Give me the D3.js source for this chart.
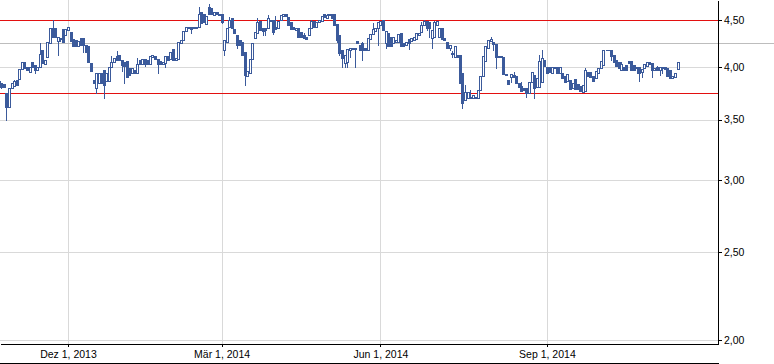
<!DOCTYPE html>
<html>
<head>
<meta charset="utf-8">
<script src="https://cdn.jsdelivr.net/npm/d3@7"></script>
<style>
	body { margin: 0; background: #fff; }
	svg { display: block; font-family: "Liberation Sans", Arial, sans-serif; }
	.axis path, .axis line { stroke: #000; shape-rendering: crispEdges; }
	.axis text { fill: #000; font-size: 10.5px; }
</style>
</head>
<body>
<div class="chart"></div>
<script>
var WIDTH = 774,
	HEIGHT = 364,
	PLOT_W = 718,
	PLOT_H = 344;

var BLUE = "#3b5a9b";

// trading calendar (weekdays minus exchange holidays)
var startDate = "2013-10-24",
	endDate = "2014-11-11";
var holidays = ["2013-12-24", "2013-12-25", "2013-12-26", "2013-12-31", "2014-01-01",
	"2014-04-18", "2014-04-21", "2014-05-01"];

var open = [
	3.86,3.84,3.83,3.74,3.61,3.79,3.81,3.87,3.88,3.98,
	4.05,4.00,3.95,4.05,4.02,3.97,4.00,4.17,4.03,4.10,
	4.25,4.42,4.41,4.27,4.29,4.40,4.34,4.39,4.37,4.29,
	4.28,4.22,4.30,4.30,4.23,4.22,4.04,3.87,3.79,3.84,
	3.94,3.97,3.86,3.86,4.00,4.05,
	4.11,4.12,4.07,4.05,
	4.06,3.99,3.94,3.97,3.94,4.07,4.03,4.08,4.07,4.03,
	4.10,4.11,4.08,4.06,4.03,4.04,4.11,4.08,4.19,4.07,
	4.08,4.25,4.28,4.38,4.43,4.43,4.41,4.41,4.43,4.60,
	4.57,4.46,4.66,4.64,4.56,4.60,4.56,4.58,4.17,4.26,
	4.43,
	4.53,4.40,4.34,4.28,4.26,4.15,3.91,3.94,4.08,
	4.30,4.36,4.49,4.41,4.42,4.42,4.51,4.51,4.43,4.41,
	4.50,4.55,4.57,4.54,4.48,4.43,4.39,4.41,4.37,4.34,
	4.32,4.34,4.41,4.49,4.43,4.48,4.49,4.57,4.53,4.56,
	4.57,4.58,4.46,4.34,4.17,4.04,
	4.05,4.18,4.20,4.19,
	4.27,4.23,4.25,4.20,4.18,4.29,4.35,4.38,4.41,4.45,
	4.50,4.25,4.36,4.32,4.25,4.26,4.26,4.36,4.25,4.23,
	4.29,4.27,4.28,4.29,4.34,4.37,4.45,4.49,4.48,4.30,
	4.31,4.45,4.31,4.42,4.30,4.26,4.20,4.13,4.10,4.12,
	4.12,3.94,3.68,3.70,3.70,3.70,3.70,3.70,3.77,3.91,
	4.06,4.20,4.27,4.26,4.24,4.10,4.10,4.10,3.93,3.87,
	3.90,3.92,3.91,3.84,3.81,3.79,3.79,3.74,3.85,3.92,
	3.80,3.80,3.85,4.07,4.00,4.00,3.94,3.99,4.00,3.94,
	3.94,3.91,3.86,3.87,3.79,
	3.88,3.83,3.81,3.75,3.76,
	3.95,3.95,3.91,3.89,3.94,3.99,4.02,4.17,4.18,4.17,
	4.12,4.07,4.05,3.97,4.00,4.02,4.06,4.06,4.02,4.00,
	4.00,3.95,3.99,4.01,4.05,4.04,3.97,4.00,3.97,4.00,
	4.00,3.99,3.97,3.89,3.90,3.98
];

var high = [
	3.86,3.84,3.83,3.74,3.79,3.84,3.87,3.87,3.98,4.05,
	4.05,4.00,4.00,4.05,4.02,4.00,4.25,4.17,4.07,4.26,
	4.42,4.50,4.41,4.31,4.30,4.40,4.40,4.43,4.37,4.29,
	4.28,4.27,4.30,4.30,4.23,4.22,4.04,3.87,3.94,3.94,
	3.94,3.97,3.94,4.00,4.11,4.09,
	4.16,4.12,4.07,4.05,
	4.06,3.99,3.99,3.97,4.09,4.07,4.08,4.08,4.07,4.11,
	4.12,4.11,4.08,4.06,4.05,4.11,4.11,4.15,4.19,4.09,
	4.26,4.28,4.38,4.43,4.43,4.43,4.43,4.43,4.66,4.60,
	4.57,4.55,4.69,4.64,4.60,4.60,4.58,4.58,4.28,4.42,
	4.54,
	4.53,4.40,4.34,4.28,4.26,4.15,3.96,4.08,4.25,
	4.37,4.53,4.49,4.41,4.42,4.56,4.51,4.51,4.55,4.49,
	4.56,4.57,4.57,4.54,4.48,4.43,4.41,4.41,4.37,4.36,
	4.32,4.41,4.51,4.49,4.48,4.50,4.55,4.57,4.57,4.57,
	4.57,4.58,4.46,4.34,4.17,4.12,
	4.19,4.20,4.20,4.20,
	4.27,4.23,4.26,4.20,4.30,4.35,4.47,4.41,4.48,4.49,
	4.50,4.38,4.36,4.32,4.31,4.28,4.35,4.36,4.25,4.26,
	4.29,4.30,4.31,4.36,4.36,4.48,4.50,4.49,4.48,4.39,
	4.49,4.49,4.41,4.42,4.30,4.26,4.23,4.16,4.22,4.12,
	4.12,3.94,3.82,3.75,3.77,3.72,3.71,3.77,3.91,4.11,
	4.22,4.28,4.31,4.26,4.24,4.11,4.11,4.10,3.93,3.87,
	3.93,3.95,3.91,3.84,3.85,3.79,3.79,3.85,3.95,3.92,
	3.89,4.12,4.17,4.07,4.00,4.00,4.00,4.00,4.00,4.00,
	3.94,3.91,3.93,3.87,3.84,
	3.88,3.83,3.81,3.82,3.99,
	3.95,3.95,3.91,3.96,3.99,4.06,4.17,4.18,4.18,4.17,
	4.12,4.07,4.05,4.05,4.00,4.02,4.06,4.06,4.02,4.00,
	4.00,3.98,4.03,4.05,4.05,4.04,3.99,4.01,4.00,4.00,
	4.00,3.99,3.97,3.91,3.94,4.05
];

var low = [
	3.84,3.79,3.80,3.50,3.61,3.79,3.81,3.82,3.88,3.98,
	3.99,3.97,3.95,4.00,3.94,3.97,4.00,4.04,4.03,4.10,
	4.25,4.31,4.31,4.12,4.27,4.26,4.34,4.39,4.27,4.22,
	4.22,4.22,4.23,4.15,4.15,4.05,3.96,3.84,3.74,3.84,
	3.84,3.70,3.86,3.86,4.00,4.05,
	4.07,4.07,3.96,3.84,
	3.90,3.92,3.94,3.94,3.94,4.03,4.03,4.01,4.03,4.03,
	4.10,4.08,3.94,4.03,4.03,4.00,4.07,4.08,4.07,4.07,
	4.08,4.25,4.28,4.38,4.41,4.36,4.41,4.41,4.43,4.47,
	4.48,4.46,4.58,4.57,4.56,4.58,4.56,4.47,4.12,4.26,
	4.43,
	4.41,4.36,4.20,4.23,4.12,3.82,3.91,3.94,4.08,
	4.30,4.36,4.39,4.34,4.34,4.42,4.49,4.35,4.40,4.41,
	4.50,4.55,4.55,4.45,4.40,4.40,4.39,4.31,4.31,4.30,
	4.29,4.34,4.41,4.43,4.43,4.48,4.49,4.54,4.53,4.56,
	4.53,4.45,4.26,4.12,4.00,4.00,
	4.00,4.10,4.19,4.00,
	4.25,4.17,4.07,4.17,4.18,4.29,4.35,4.38,4.23,4.45,
	4.39,4.20,4.22,4.22,4.25,4.26,4.26,4.22,4.22,4.23,
	4.19,4.27,4.28,4.29,4.34,4.37,4.45,4.39,4.31,4.20,
	4.31,4.45,4.31,4.29,4.28,4.20,4.18,4.10,4.10,4.10,
	3.84,3.60,3.68,3.70,3.70,3.70,3.70,3.70,3.77,3.91,
	4.06,4.20,4.27,4.18,3.99,4.10,4.10,3.93,3.92,3.83,
	3.85,3.90,3.84,3.80,3.76,3.77,3.71,3.74,3.85,3.70,
	3.80,3.80,3.85,4.01,3.94,3.95,3.94,3.99,3.94,3.94,
	3.89,3.85,3.86,3.78,3.79,
	3.78,3.78,3.76,3.75,3.76,
	3.91,3.90,3.86,3.89,3.94,3.99,4.02,4.17,4.17,4.07,
	4.05,4.01,3.99,3.97,3.97,3.97,4.04,3.97,3.97,3.94,
	3.86,3.90,3.99,4.01,4.03,3.90,3.97,3.97,3.92,3.94,
	3.98,3.91,3.89,3.89,3.90,3.98
];

var close = [
	3.84,3.80,3.80,3.61,3.79,3.84,3.86,3.82,3.98,4.05,
	3.99,3.97,4.00,4.00,3.97,4.00,4.13,4.04,4.07,4.26,
	4.42,4.31,4.31,4.31,4.30,4.26,4.40,4.43,4.27,4.22,
	4.22,4.27,4.23,4.23,4.15,4.05,3.96,3.84,3.94,3.94,
	3.84,3.82,3.94,4.00,4.05,4.09,
	4.07,4.07,4.02,4.01,
	3.90,3.92,3.99,3.94,4.03,4.03,4.08,4.03,4.03,4.11,
	4.12,4.08,4.03,4.03,4.05,4.11,4.07,4.15,4.07,4.09,
	4.26,4.28,4.38,4.43,4.41,4.40,4.43,4.43,4.57,4.47,
	4.48,4.55,4.58,4.57,4.60,4.58,4.58,4.48,4.28,4.42,
	4.50,
	4.41,4.36,4.23,4.23,4.12,3.92,3.96,4.08,4.25,
	4.37,4.48,4.39,4.38,4.39,4.53,4.49,4.37,4.40,4.49,
	4.56,4.57,4.55,4.45,4.40,4.40,4.41,4.31,4.31,4.30,
	4.29,4.41,4.49,4.43,4.48,4.50,4.55,4.54,4.56,4.57,
	4.53,4.45,4.28,4.14,4.09,4.12,
	4.19,4.20,4.19,4.20,
	4.25,4.17,4.17,4.17,4.30,4.35,4.40,4.41,4.48,4.49,
	4.39,4.38,4.22,4.22,4.31,4.28,4.35,4.22,4.22,4.26,
	4.25,4.30,4.31,4.36,4.36,4.45,4.49,4.42,4.41,4.39,
	4.48,4.49,4.41,4.29,4.28,4.20,4.23,4.14,4.22,4.10,
	3.84,3.65,3.75,3.75,3.71,3.72,3.71,3.77,3.91,4.11,
	4.22,4.28,4.29,4.24,4.10,4.11,4.11,3.93,3.92,3.83,
	3.93,3.90,3.84,3.80,3.76,3.77,3.74,3.85,3.95,3.79,
	3.89,4.06,4.09,4.01,3.94,3.95,4.00,4.00,3.94,4.00,
	3.89,3.85,3.93,3.78,3.84,
	3.78,3.78,3.76,3.82,3.97,
	3.91,3.90,3.86,3.96,3.99,4.06,4.17,4.18,4.17,4.11,
	4.05,4.01,3.99,4.03,3.97,3.97,4.04,3.97,3.97,3.99,
	3.94,3.98,4.03,4.05,4.03,3.97,3.99,3.97,4.00,3.99,
	3.98,3.91,3.89,3.91,3.94,4.05
];

var tickDates = ["2013-12-02", "2014-03-03", "2014-06-02", "2014-09-01"],
	tickLabels = ["Dez 1, 2013", "Mär 1, 2014", "Jun 1, 2014", "Sep 1, 2014"];
var yTicks = [2.0, 2.5, 3.0, 3.5, 4.0, 4.5];
var redLevels = [4.50, 3.74],
	greyLevel = 4.245;

var parseDate = d3.timeParse("%Y-%m-%d"),
	fmtDate = d3.timeFormat("%Y-%m-%d");

var de = d3.formatLocale({decimal: ",", thousands: ".", grouping: [3], currency: ["", " €"]});
var fmtPrice = de.format(".2f");

var tradingDays = function() {
	var days = d3.timeDay.range(parseDate(startDate), d3.timeDay.offset(parseDate(endDate), 1));
	return days.filter(function(d) {
		var wd = d.getDay();
		return wd !== 0 && wd !== 6 && holidays.indexOf(fmtDate(d)) < 0;
	}).map(fmtDate);
}

var generateChart = function() {
	var dates = tradingDays();
	var data = close.map(function(c, i) {
		return {i: i, date: dates[i], o: open[i], h: high[i], l: low[i], c: c};
	});

	var xScale = d3.scaleLinear()
		.domain([0.47, 280.8])
		.range([0, PLOT_W]);

	var yScale = d3.scaleLog()
		.domain([1.98, 4.74])
		.range([PLOT_H, 0]);

	var svg = d3.select(".chart").append("svg")
		.attr("width", WIDTH)
		.attr("height", HEIGHT);

	var tickIdx = tickDates.map(function(t) { return dates.indexOf(t); });
	var crisp = function(v) { return Math.round(v) + 0.5; };

	// grid
	var grid = svg.append("g")
		.attr("stroke", "#d9d9d9")
		.attr("shape-rendering", "crispEdges");

	grid.selectAll("line.h")
		.data(yTicks)
		.enter().append("line")
		.attr("class", "h")
		.attr("x1", 0)
		.attr("x2", PLOT_W)
		.attr("y1", function(d) { return crisp(yScale(d)); })
		.attr("y2", function(d) { return crisp(yScale(d)); });

	grid.selectAll("line.v")
		.data(tickIdx)
		.enter().append("line")
		.attr("class", "v")
		.attr("x1", function(d) { return crisp(xScale(d)); })
		.attr("x2", function(d) { return crisp(xScale(d)); })
		.attr("y1", 0)
		.attr("y2", PLOT_H);

	svg.append("line")
		.attr("x1", 0)
		.attr("x2", WIDTH)
		.attr("y1", crisp(yScale(greyLevel)))
		.attr("y2", crisp(yScale(greyLevel)))
		.attr("stroke", "#bdbdbd")
		.attr("shape-rendering", "crispEdges");

	svg.selectAll("line.level")
		.data(redLevels)
		.enter().append("line")
		.attr("class", "level")
		.attr("x1", 0)
		.attr("x2", PLOT_W)
		.attr("y1", function(d) { return crisp(yScale(d)); })
		.attr("y2", function(d) { return crisp(yScale(d)); })
		.attr("stroke", "#e31010")
		.attr("shape-rendering", "crispEdges");

	// candles
	var chart = svg.append("g")
		.attr("shape-rendering", "crispEdges");

	chart.selectAll("line.wick")
		.data(data)
		.enter().append("line")
		.attr("class", "wick")
		.attr("x1", function(d) { return Math.round(xScale(d.i)) + 0.5; })
		.attr("x2", function(d) { return Math.round(xScale(d.i)) + 0.5; })
		.attr("y1", function(d) { return Math.round(yScale(d.h)); })
		.attr("y2", function(d) { return Math.round(yScale(d.l)) + 1; })
		.attr("stroke", BLUE);

	chart.selectAll("path.body")
		.data(data)
		.enter().append("path")
		.attr("class", "body")
		.attr("d", function(d) {
			var px = Math.round(xScale(d.i));
			var y0 = Math.round(yScale(Math.max(d.o, d.c))) + 0.5,
				y1 = Math.round(yScale(Math.min(d.o, d.c))) + 0.5;
			return "M" + (px - 0.5) + "," + y0 + "H" + (px + 1.5) + "V" + y1 + "H" + (px - 0.5) + "Z";
		})
		.attr("fill", function(d) { return d.c >= d.o ? "#fff" : BLUE; })
		.attr("stroke", BLUE);

	// axes
	var yAxis = d3.axisRight(yScale)
		.tickValues(yTicks)
		.tickSize(4)
		.tickSizeOuter(0)
		.tickPadding(2)
		.tickFormat(fmtPrice);

	svg.append("g")
		.attr("class", "axis")
		.attr("transform", "translate(" + PLOT_W + ",0)")
		.call(yAxis);

	var xAxis = d3.axisBottom(xScale)
		.tickValues(tickIdx)
		.tickSize(3)
		.tickSizeOuter(0)
		.tickPadding(4)
		.tickFormat(function(d, i) { return tickLabels[i]; });

	svg.append("g")
		.attr("class", "axis")
		.attr("transform", "translate(0," + PLOT_H + ")")
		.call(xAxis);

	svg.append("line")
		.attr("x1", 0)
		.attr("x2", PLOT_W + 1)
		.attr("y1", HEIGHT - 0.5)
		.attr("y2", HEIGHT - 0.5)
		.attr("stroke", "#000")
		.attr("shape-rendering", "crispEdges");
}

window.onload = function() {
	generateChart();
}
</script>
</body>
</html>
